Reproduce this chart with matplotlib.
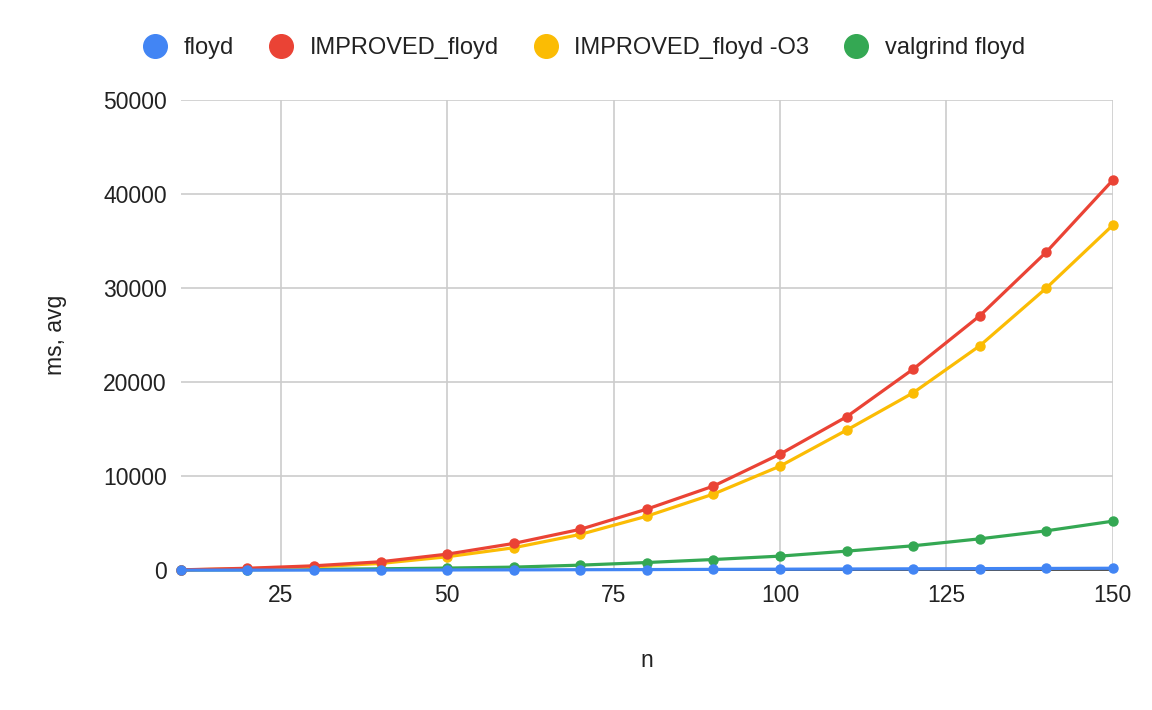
import matplotlib.pyplot as plt
from matplotlib.lines import Line2D

plt.rcParams['font.family'] = ['Liberation Sans', 'DejaVu Sans']

n = [10, 20, 30, 40, 50, 60, 70, 80, 90, 100, 110, 120, 130, 140, 150]
floyd = [1, 3, 6, 12, 20, 30, 45, 60, 80, 100, 120, 140, 160, 180, 200]
improved = [30, 200, 460, 890, 1700, 2840, 4340, 6490, 8940, 12340, 16310, 21380, 27050, 33830, 41490]
improved_o3 = [25, 150, 350, 710, 1420, 2380, 3800, 5740, 8090, 11060, 14890, 18860, 23860, 30000, 36700]
valgrind = [10, 40, 80, 140, 220, 320, 530, 810, 1130, 1490, 2020, 2590, 3330, 4180, 5210]

series = [
    ("floyd", floyd, "#4285F4", 5),
    ("IMPROVED_floyd", improved, "#EA4335", 4),
    ("IMPROVED_floyd -O3", improved_o3, "#FBBC04", 3),
    ("valgrind floyd", valgrind, "#34A853", 2),
]

fs = 16.5
txt = "#222222"

fig = plt.figure(figsize=(11.52, 7.1), dpi=100)
ax = fig.add_axes([0.157, 0.197, 0.809, 0.662])

for label, values, color, z in series:
    ax.plot(n, values, color=color, lw=2.3, marker="o", ms=6.5,
            label=label, zorder=z, clip_on=False)

ax.set_xlim(10, 150)
ax.set_ylim(0, 50000)
ax.set_xticks([25, 50, 75, 100, 125, 150])
ax.set_yticks([0, 10000, 20000, 30000, 40000, 50000])
ax.grid(True, color="#cccccc", lw=1.2, zorder=0)
ax.set_axisbelow(True)
for side in ["top", "right", "left"]:
    ax.spines[side].set_visible(False)
ax.spines["bottom"].set_color("#333333")
ax.spines["bottom"].set_linewidth(1.2)
ax.tick_params(length=0, labelsize=fs, labelcolor=txt, pad=10)

ax.set_xlabel("n", fontsize=fs, color=txt, labelpad=30)
ax.set_ylabel("ms, avg", fontsize=fs, color=txt, labelpad=26)

handles = [Line2D([], [], ls="none", marker="o", ms=17, color=c)
           for _, _, c, _ in series]
fig.legend(handles, [s[0] for s in series], loc="center", ncol=4,
           bbox_to_anchor=(0.502, 0.932), frameon=False, fontsize=17,
           handletextpad=0.2, columnspacing=1.0, labelcolor=txt)

fig.savefig("out.png", dpi=100)
